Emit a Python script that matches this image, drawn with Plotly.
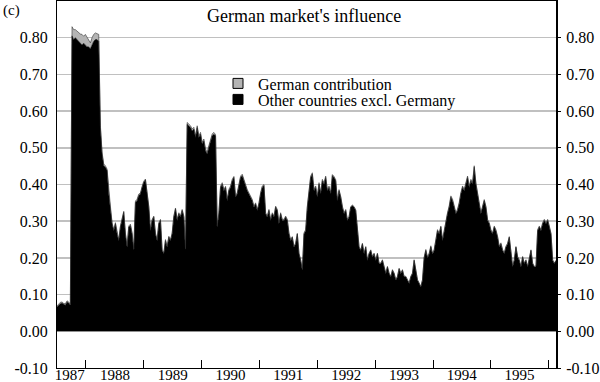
import plotly.graph_objects as go
import pandas as pd

# ---- data ----
other = [
    0.066, 0.071, 0.075, 0.077, 0.073, 0.071, 0.080, 0.077, 0.071,
    0.805, 0.795, 0.800, 0.795, 0.790, 0.785, 0.780, 0.785, 0.780, 0.775, 0.775, 0.770, 0.780, 0.790, 0.795, 0.795, 0.790,
    0.555, 0.483, 0.451, 0.447, 0.438, 0.374, 0.338, 0.293, 0.274, 0.293,
    0.265, 0.247, 0.284, 0.302, 0.324, 0.265, 0.229, 0.284, 0.288, 0.265,
    0.220, 0.351, 0.356, 0.370, 0.374, 0.392, 0.406, 0.412, 0.370, 0.338,
    0.274, 0.302, 0.311, 0.265, 0.247, 0.293, 0.302, 0.220, 0.211, 0.247,
    0.229, 0.256, 0.247, 0.265, 0.311, 0.333, 0.302, 0.320, 0.311, 0.329, 0.311,
    0.220, 0.564, 0.560, 0.555, 0.546, 0.551, 0.528, 0.555, 0.528, 0.537,
    0.510, 0.519, 0.492, 0.483, 0.501, 0.519, 0.533, 0.537, 0.533, 0.284,
    0.320, 0.392, 0.401, 0.383, 0.392, 0.356, 0.383, 0.392, 0.410, 0.419,
    0.365, 0.374, 0.401, 0.419, 0.424, 0.410, 0.392, 0.383, 0.374, 0.365,
    0.356, 0.338, 0.347, 0.329, 0.347, 0.374, 0.392, 0.397, 0.320, 0.311,
    0.329, 0.302, 0.320, 0.311, 0.338, 0.329, 0.293, 0.320, 0.302, 0.302,
    0.311, 0.302, 0.265, 0.247, 0.256, 0.229, 0.238, 0.265, 0.211, 0.193,
    0.166, 0.265, 0.274, 0.338, 0.374,
    0.419, 0.428, 0.383, 0.392, 0.365, 0.401, 0.374, 0.410, 0.401, 0.419,
    0.383, 0.392, 0.374, 0.424, 0.419, 0.410, 0.356, 0.383, 0.365, 0.338,
    0.320, 0.329, 0.302, 0.311, 0.338, 0.342, 0.338, 0.329, 0.284, 0.229,
    0.220, 0.238, 0.211, 0.229, 0.193, 0.211, 0.220, 0.202, 0.211, 0.193,
    0.211, 0.184, 0.184, 0.193, 0.175, 0.157, 0.175, 0.157, 0.148, 0.166,
    0.157, 0.139, 0.148, 0.170, 0.157, 0.166, 0.148, 0.148, 0.139, 0.130,
    0.148, 0.157, 0.193, 0.166, 0.139, 0.130, 0.120, 0.139, 0.200, 0.220,
    0.200, 0.210, 0.230, 0.210, 0.220,
    0.247, 0.274, 0.265, 0.284, 0.247, 0.274, 0.302, 0.320, 0.338, 0.365,
    0.356, 0.338, 0.320, 0.329, 0.347, 0.374, 0.392, 0.383, 0.401, 0.419,
    0.392, 0.410, 0.401, 0.447, 0.401, 0.374, 0.356, 0.320, 0.338, 0.356,
    0.338, 0.302, 0.293, 0.274, 0.265, 0.284, 0.274, 0.256, 0.229, 0.238,
    0.220, 0.211, 0.229, 0.238, 0.256, 0.211, 0.175, 0.193, 0.229, 0.202,
    0.193, 0.175, 0.202, 0.184, 0.193, 0.175, 0.202, 0.220, 0.184, 0.175,
    0.175, 0.274, 0.284, 0.274, 0.293, 0.302, 0.293, 0.302, 0.284, 0.265,
    0.193, 0.184, 0.193,
]

german = [
    0.003, 0.003, 0.004, 0.003, 0.003, 0.004, 0.003, 0.003, 0.003,
    0.025, 0.027, 0.022, 0.023, 0.023, 0.025, 0.029, 0.019, 0.029, 0.025, 0.020, 0.016, 0.020, 0.019, 0.018, 0.015, 0.019,
    0.006, 0.005, 0.005, 0.004, 0.004, 0.004, 0.003, 0.003, 0.003, 0.003,
    0.003, 0.003, 0.003, 0.003, 0.003, 0.003, 0.003, 0.003, 0.004, 0.004,
    0.004, 0.004, 0.004, 0.004, 0.003, 0.003, 0.003, 0.003, 0.003, 0.003,
    0.003, 0.003, 0.003, 0.003, 0.003, 0.003, 0.003, 0.003, 0.003, 0.003,
    0.003, 0.003, 0.003, 0.003, 0.003, 0.003, 0.003, 0.003, 0.003, 0.003,
    0.003, 0.005, 0.005, 0.005, 0.005, 0.005, 0.005, 0.005, 0.005, 0.005,
    0.005, 0.005, 0.005, 0.005, 0.005, 0.005, 0.005, 0.005, 0.005, 0.003,
    0.003, 0.004, 0.004, 0.004, 0.004, 0.003, 0.004, 0.004, 0.004, 0.004,
    0.003, 0.003, 0.004, 0.004, 0.004, 0.004, 0.004, 0.004, 0.003, 0.003,
    0.003, 0.003, 0.003, 0.003, 0.003, 0.003, 0.004, 0.004, 0.003, 0.003,
    0.003, 0.003, 0.003, 0.003, 0.003, 0.003, 0.003, 0.003, 0.003, 0.003,
    0.003, 0.003, 0.003, 0.003, 0.003, 0.002, 0.002, 0.003, 0.002, 0.002,
    0.002, 0.003, 0.003, 0.003, 0.004, 0.004, 0.004, 0.004, 0.004, 0.004,
    0.004, 0.004, 0.004, 0.004, 0.004, 0.004, 0.003, 0.004, 0.003, 0.003,
    0.003, 0.003, 0.003, 0.003, 0.003, 0.003, 0.003, 0.003, 0.003, 0.002,
    0.002, 0.002, 0.002, 0.002, 0.002, 0.002, 0.002, 0.002, 0.002, 0.002,
    0.002, 0.002, 0.002, 0.002, 0.002, 0.002, 0.002, 0.002, 0.002, 0.002,
    0.002, 0.002, 0.002, 0.002, 0.002, 0.002, 0.002, 0.002, 0.002, 0.002,
    0.002, 0.002, 0.002, 0.002, 0.002, 0.002, 0.002, 0.002, 0.002, 0.002,
    0.002, 0.002, 0.002, 0.002, 0.002, 0.003, 0.003, 0.003, 0.003, 0.003,
    0.003, 0.003, 0.003, 0.003, 0.003, 0.003, 0.003, 0.003, 0.003, 0.004,
    0.004, 0.004, 0.004, 0.004, 0.004, 0.004, 0.004, 0.004, 0.004, 0.004,
    0.004, 0.004, 0.004, 0.004, 0.004, 0.004, 0.004, 0.003, 0.003, 0.003,
    0.003, 0.003, 0.003, 0.003, 0.003, 0.003, 0.003, 0.003, 0.003, 0.003,
    0.003, 0.003, 0.003, 0.003, 0.002, 0.002, 0.003, 0.003, 0.003, 0.002,
    0.002, 0.002, 0.002, 0.002, 0.002, 0.002, 0.002, 0.003, 0.002, 0.002,
    0.002, 0.003, 0.003, 0.003, 0.003, 0.003, 0.003, 0.003, 0.003, 0.003,
    0.002, 0.002, 0.002,
]

start_date = "1987-07-02"
step = "253h"
dates = pd.date_range(start_date, periods=len(other), freq=step)

year_labels = ["1987", "1988", "1989", "1990", "1991", "1992", "1993", "1994", "1995"]
year_label_pos = ["1987-09-20"] + [f"{y}-07-02" for y in year_labels[1:]]
year_bounds = [f"{y}-01-01" for y in range(1988, 1997)]

y_ticks = [-0.1, 0.0, 0.1, 0.2, 0.3, 0.4, 0.5, 0.6, 0.7, 0.8]
y_tick_text = ["-0.10", "0.00", "0.10", "0.20", "0.30", "0.40", "0.50", "0.60", "0.70", "0.80"]

FONT = "Liberation Serif"
GREY = "#b4b4b4"

fig = go.Figure()
fig.add_trace(go.Scatter(
    x=dates, y=other, stackgroup="one", mode="lines",
    line=dict(color="black", width=0.6), fillcolor="black",
    showlegend=False, hoverinfo="skip"))
fig.add_trace(go.Scatter(
    x=dates, y=german, stackgroup="one", mode="lines",
    line=dict(color="#303030", width=0.6), fillcolor=GREY,
    showlegend=False, hoverinfo="skip"))

# legend entries
fig.add_trace(go.Scatter(
    x=[None], y=[None], mode="markers", name="German contribution",
    marker=dict(symbol="square", size=10, color=GREY, line=dict(color="black", width=1)),
    legend="legend"))
fig.add_trace(go.Scatter(
    x=[None], y=[None], mode="markers", name="Other countries excl. Germany",
    marker=dict(symbol="square", size=10, color="black", line=dict(color="black", width=1)),
    legend="legend2"))

# right axis dummy trace
fig.add_trace(go.Scatter(x=[dates[0]], y=[None], yaxis="y2", showlegend=False, hoverinfo="skip"))

def ypaper(px):
    return 1 - (px - 1) / 367.0

def xpaper(px):
    return (px - 57) / 499.0

fig.update_layout(
    width=600, height=382,
    margin=dict(l=57, r=44, t=1, b=14, autoexpand=False),
    paper_bgcolor="white", plot_bgcolor="white",
    font=dict(family=FONT, size=16, color="black"),
    hovermode=False,
    xaxis=dict(
        type="date", range=[dates[0], dates[-1]], automargin=False,
        tickmode="array", tickvals=year_label_pos, ticktext=year_labels,
        ticks="", showgrid=False, zeroline=False,
        showline=True, linecolor="black", linewidth=1, mirror=True,
        tickfont=dict(family=FONT, size=15, color="black"),
        ticklabelstandoff=-7,
        minor=dict(tickmode="array", tickvals=year_bounds, ticks="inside",
                   ticklen=8, tickwidth=1, tickcolor="black", showgrid=False),
    ),
    yaxis=dict(
        range=[-0.1, 0.9], tickmode="array", tickvals=y_ticks, ticktext=y_tick_text,
        automargin=False,
        showgrid=True, gridcolor="#c0c0c0", gridwidth=1.5, zeroline=False,
        showline=True, linecolor="black", linewidth=1, ticks="",
        tickfont=dict(family=FONT, size=16, color="black"), ticklabelstandoff=5,
    ),
    yaxis2=dict(
        range=[-0.1, 0.9], tickmode="array", tickvals=y_ticks, ticktext=y_tick_text,
        automargin=False,
        overlaying="y", side="right", showgrid=False, zeroline=False,
        showline=True, linecolor="black", linewidth=2,
        ticks="outside", ticklen=3, tickcolor="black", tickwidth=1,
        tickfont=dict(family=FONT, size=16, color="black"), ticklabelstandoff=2,
    ),
    legend=dict(x=xpaper(218), y=ypaper(83.5), xanchor="left", yanchor="middle",
                bgcolor="rgba(0,0,0,0)", font=dict(family=FONT, size=16)),
    legend2=dict(x=xpaper(218), y=ypaper(99.5), xanchor="left", yanchor="middle",
                 bgcolor="rgba(0,0,0,0)", font=dict(family=FONT, size=16)),
    annotations=[
        dict(text="German market's influence", xref="paper", yref="paper",
             x=xpaper(304), y=ypaper(16), xanchor="center", yanchor="middle",
             showarrow=False, font=dict(family=FONT, size=18)),
        dict(text="(c)", xref="paper", yref="paper",
             x=xpaper(1), y=ypaper(0), xanchor="left", yanchor="top",
             showarrow=False, font=dict(family=FONT, size=15)),
    ],
)

fig.write_html("out.html",
               config={"displayModeBar": False, "staticPlot": True},
               post_script="document.body.style.margin='0';document.body.style.overflow='hidden';")
